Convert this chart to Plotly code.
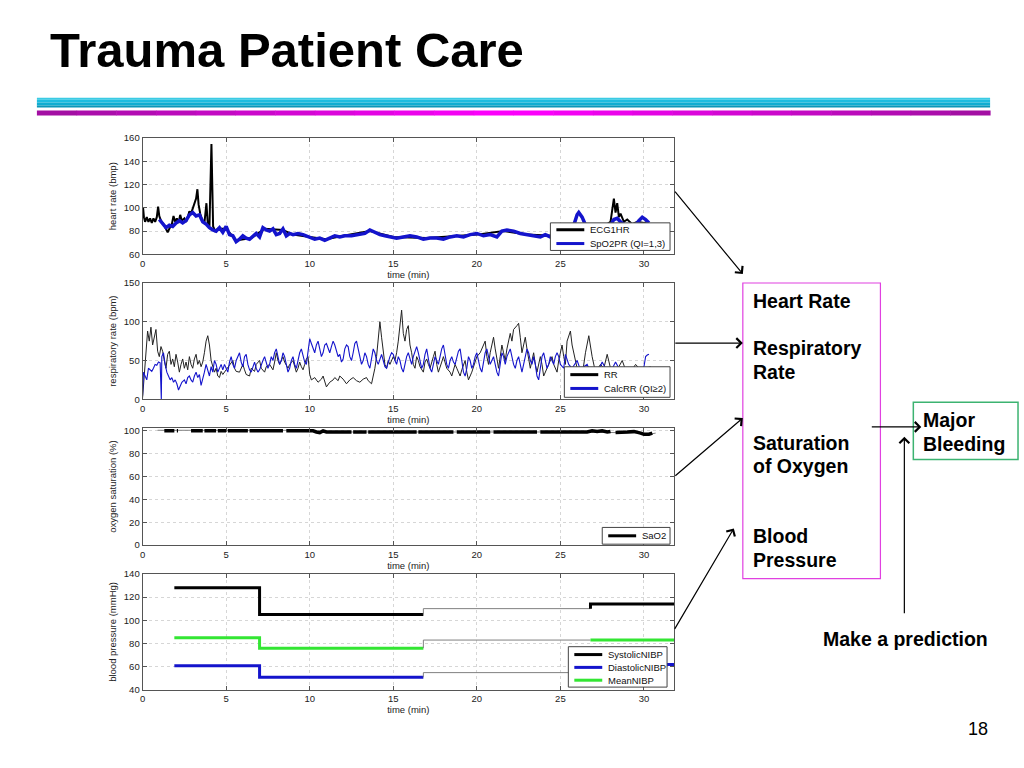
import plotly.graph_objects as go

W, H = 1024, 768
def px(x): return x / W
def py(y): return 1 - y / H

FONT = "Liberation Sans, Arial, sans-serif"

# ---------------- data ----------------
hr_ecg_t = [0.0, 0.03, 0.08, 0.15, 0.25, 0.35, 0.45, 0.55, 0.65, 0.75, 0.85, 0.93, 1.0, 1.1, 1.25, 1.4, 1.5, 1.6,
            1.75, 1.85, 1.95, 2.05, 2.15, 2.25, 2.35, 2.5, 2.6, 2.7, 2.8, 2.9, 3.0, 3.1, 3.2, 3.28, 3.35, 3.45, 3.55,
            3.7, 3.82, 3.9, 4.0, 4.12, 4.22, 4.35, 4.5, 5.0, 5.6, 6.5, 7.3, 8.4, 9.0, 10.0, 11.0, 12.0, 13.6, 15.0,
            17.0, 19.0, 20.0, 21.6, 23.0, 24.5, 25.5, 26.5, 27.5, 28.0, 28.1, 28.2, 28.3, 28.4, 28.5, 28.6, 28.8,
            29.0, 29.3, 29.6, 30.0, 30.3]
hr_ecg_v = [94, 100, 92, 88, 92, 88, 91, 87, 91, 88, 92, 101, 93, 89, 86, 82, 79, 82,
            86, 93, 88, 91, 87, 94, 89, 91, 88, 92, 97, 95, 100, 104, 108, 116, 103, 95, 90,
            87, 104, 86, 84, 155, 84, 80, 82, 82, 72, 74, 82, 81, 77, 75, 73, 76, 80, 75,
            74, 76, 77, 80, 77, 76, 78, 84, 83, 88, 100, 108, 96, 104, 92, 95, 88,
            90, 86, 88, 87, 88]

hr_spo2_t = [1.0, 1.2, 1.4, 1.6, 1.8, 2.0, 2.2, 2.4, 2.6, 2.8, 3.0, 3.2, 3.4, 3.6, 3.8, 4.0, 4.2, 4.4, 4.6, 4.8,
             5.0, 5.2, 5.4, 5.6, 5.8, 6.0, 6.2, 6.4, 6.6, 6.8, 7.0, 7.2, 7.4, 7.6, 7.8, 8.0, 8.2, 8.4, 8.6, 8.8,
             9.0, 9.3, 9.6, 10.0, 10.3, 10.6, 10.9, 11.2, 11.5, 11.8, 12.1, 12.5, 12.9, 13.3, 13.6, 13.9, 14.2,
             14.5, 14.8, 15.2, 15.6, 16.0, 16.4, 16.8, 17.2, 17.6, 18.0, 18.4, 18.8, 19.2, 19.6, 20.0, 20.4,
             20.8, 21.2, 21.5, 21.8, 22.2, 22.6, 23.0, 23.4, 23.8, 24.1, 24.4, 24.7, 25.0, 25.4, 25.8, 26.0,
             26.1, 26.3, 26.6, 27.0, 27.5, 28.0, 28.2, 28.4, 28.6, 29.0, 29.5, 29.7, 29.9, 30.1, 30.3]
hr_spo2_v = [90, 87, 83, 85, 84, 87, 89, 87, 89, 94, 96, 93, 94, 88, 86, 83, 81, 80, 83, 79,
             84, 77, 76, 71, 73, 76, 74, 73, 76, 78, 75, 83, 81, 80, 82, 77, 78, 82, 76, 78,
             77, 78, 77, 75, 73, 74, 72, 74, 76, 75, 76, 76, 77, 78, 81, 79, 77,
             76, 75, 74, 75, 76, 75, 73, 74, 74, 73, 75, 76, 75, 77, 78, 76,
             77, 75, 80, 81, 80, 78, 77, 76, 75, 77, 75, 78, 77, 78, 85, 94,
             96, 92, 82, 80, 81, 85, 90, 91, 88, 84, 85, 89, 92, 90, 87]

rr_t = [0.0, 0.1, 0.2, 0.3, 0.4, 0.5, 0.6, 0.7, 0.8, 0.9, 1.0, 1.1, 1.2, 1.3, 1.4, 1.5, 1.6, 1.7, 1.8, 1.9,
        2.0, 2.1, 2.2, 2.3, 2.4, 2.5, 2.6, 2.7, 2.8, 2.9, 3.0, 3.1, 3.2, 3.3, 3.4, 3.5, 3.6, 3.7, 3.8, 3.9,
        4.0, 4.1, 4.2, 4.3, 4.4, 4.5, 4.6, 4.7, 4.8, 4.9, 5.0, 5.2, 5.4, 5.5, 5.6, 5.8, 6.0, 6.1, 6.2, 6.4,
        6.5, 6.7, 6.8, 7.0, 7.1, 7.3, 7.4, 7.6, 7.8, 7.9, 8.0, 8.1, 8.2, 8.4, 8.5, 8.7, 8.8, 9.0, 9.1, 9.2,
        9.3, 9.4, 9.5, 9.6, 9.7, 9.8, 9.9, 10.0, 10.1, 10.3, 10.5, 10.7, 10.8, 11.0, 11.2, 11.4, 11.5, 11.7,
        11.8, 12.0, 12.2, 12.4, 12.6, 12.8, 13.0, 13.2, 13.4, 13.5, 13.7, 13.8, 13.9, 14.0, 14.1, 14.2,
        14.3, 14.4, 14.5, 14.6, 14.7, 14.8, 15.0, 15.1, 15.2, 15.3, 15.4, 15.5, 15.6, 15.7, 15.8, 15.9,
        16.0, 16.1, 16.2, 16.3, 16.4, 16.5, 16.6, 16.8, 16.9, 17.0, 17.1, 17.2, 17.4, 17.5, 17.6, 17.7,
        17.9, 18.0, 18.2, 18.4, 18.5, 18.7, 18.8, 19.0, 19.1, 19.3, 19.4, 19.5, 19.7, 19.8, 20.0, 20.2,
        20.4, 20.5, 20.6, 20.7, 20.8, 21.0, 21.1, 21.2, 21.3, 21.4, 21.5, 21.6, 21.7, 21.8, 22.0, 22.1,
        22.2, 22.4, 22.5, 22.6, 22.7, 22.8, 22.9, 23.0, 23.1, 23.2, 23.3, 23.4, 23.5, 23.6, 23.8, 23.9,
        24.0, 24.2, 24.4, 24.5, 24.6, 24.8, 24.9, 25.0, 25.1, 25.2, 25.3, 25.4, 25.6, 25.7, 25.8, 25.9,
        26.0, 26.3, 26.5, 26.7, 26.9, 27.1, 27.4, 27.6, 27.8, 28.0, 28.2, 28.5, 28.7, 28.9, 29.2, 29.5,
        29.8, 30.1, 30.4]
rr_v = [2, 30, 60, 88, 75, 93, 70, 80, 90, 62, 55, 68, 62, 50, 40, 58, 62, 45, 52, 42,
        58, 48, 35, 45, 52, 40, 48, 38, 55, 45, 40, 52, 58, 45, 50, 42, 48, 60, 75, 82,
        70, 50, 42, 35, 40, 30, 28, 36, 32, 35, 38, 45, 50, 40, 36, 35, 45, 38, 32, 30,
        40, 36, 45, 50, 40, 35, 42, 45, 38, 48, 60, 50, 45, 55, 48, 40, 45, 50, 42, 35,
        40, 48, 42, 38, 45, 52, 55, 32, 25, 28, 22, 26, 30, 16, 22, 25, 28, 24,
        30, 26, 20, 25, 28, 24, 22, 26, 28, 24, 20, 30, 40, 55, 75, 100,
        80, 60, 45, 40, 50, 45, 55, 50, 60, 75, 95, 115, 85, 75, 90, 95,
        70, 60, 45, 40, 55, 50, 42, 35, 48, 52, 45, 40, 55, 62, 45, 35,
        48, 55, 40, 35, 30, 45, 40, 30, 38, 50, 35, 25, 35, 42, 55, 60,
        70, 75, 55, 45, 60, 80, 65, 50, 40, 55, 70, 60, 50, 65, 85, 75,
        90, 95, 98, 80, 60, 70, 80, 65, 50, 40, 50, 60, 45, 35, 55, 45,
        30, 40, 50, 55, 45, 35, 50, 60, 70, 55, 45, 75, 88, 70, 60, 50,
        40, 30, 60, 82, 55, 35, 45, 40, 58, 40, 30, 42, 50, 38, 35, 45,
        38, 40, 42]

calc_t = [0.0, 0.05, 0.15, 0.25, 0.35, 0.45, 0.55, 0.65, 0.75, 0.85, 0.95, 1.05, 1.1, 1.12, 1.15, 1.25, 1.35,
          1.45, 1.55, 1.65, 1.75, 1.85, 1.95, 2.05, 2.15, 2.25, 2.35, 2.5, 2.6, 2.7, 2.8, 2.9, 3.0, 3.1, 3.2,
          3.3, 3.4, 3.5, 3.6, 3.7, 3.8, 3.9, 4.0, 4.1, 4.2, 4.3, 4.4, 4.5, 4.6, 4.7, 4.8, 4.9, 5.0, 5.1, 5.2,
          5.3, 5.4, 5.5, 5.6, 5.7, 5.8, 5.9, 6.0, 6.1, 6.2, 6.3, 6.4, 6.5, 6.6, 6.7, 6.8, 6.9, 7.0, 7.1, 7.2,
          7.3, 7.4, 7.5, 7.6, 7.7, 7.8, 7.9, 8.0, 8.1, 8.2, 8.3, 8.4, 8.5, 8.6, 8.7, 8.8, 8.9, 9.0, 9.1, 9.2,
          9.3, 9.4, 9.5, 9.6, 9.7, 9.8, 9.9, 10.0, 10.1, 10.2, 10.3, 10.4, 10.5, 10.6, 10.7, 10.8, 10.9, 11.0,
          11.1, 11.2, 11.3, 11.4, 11.5, 11.6, 11.7, 11.8, 11.9, 12.0, 12.1, 12.2, 12.3, 12.4, 12.5, 12.6, 12.7,
          12.8, 12.9, 13.0, 13.1, 13.2, 13.3, 13.4, 13.5, 13.6, 13.7, 13.8, 13.9, 14.0, 14.1, 14.2, 14.3, 14.4,
          14.5, 14.6, 14.7, 14.8, 14.9, 15.0, 15.1, 15.2, 15.3, 15.4, 15.5, 15.6, 15.7, 15.8, 15.9, 16.0, 16.1,
          16.2, 16.3, 16.4, 16.5, 16.6, 16.7, 16.8, 16.9, 17.0, 17.1, 17.2, 17.3, 17.4, 17.5, 17.6, 17.7, 17.8,
          17.9, 18.0, 18.1, 18.2, 18.3, 18.4, 18.5, 18.6, 18.7, 18.8, 18.9, 19.0, 19.1, 19.2, 19.3, 19.4, 19.5,
          19.6, 19.7, 19.8, 19.9, 20.0, 20.1, 20.2, 20.3, 20.4, 20.5, 20.6, 20.7, 20.8, 20.9, 21.0, 21.1, 21.2,
          21.3, 21.4, 21.5, 21.6, 21.7, 21.8, 21.9, 22.0, 22.1, 22.2, 22.3, 22.4, 22.5, 22.6, 22.7, 22.8, 22.9,
          23.0, 23.1, 23.2, 23.3, 23.4, 23.5, 23.6, 23.7, 23.8, 23.9, 24.0, 24.1, 24.2, 24.3, 24.4, 24.5, 24.6,
          24.7, 24.8, 24.9, 25.0, 25.2, 25.3, 25.5, 25.7, 26.0, 26.2, 26.4, 26.6, 26.8, 27.0, 27.3, 27.5, 27.7,
          28.0, 28.3, 28.5, 28.8, 29.0, 29.5, 29.8, 30.0, 30.1, 30.2, 30.3]
calc_v = [5, 35, 30, 25, 40, 38, 36, 40, 45, 44, 48, 47, 0, 0, 55, 60, 45,
          35, 30, 25, 28, 22, 25, 20, 12, 18, 22, 25, 20, 28, 30, 25, 22, 30, 35,
          28, 32, 18, 25, 35, 45, 38, 30, 42, 35, 50, 45, 35, 40, 45, 38, 45, 40, 35, 48,
          55, 45, 40, 50, 55, 60, 48, 42, 55, 58, 45, 38, 35, 42, 48, 40, 35, 38, 45, 50,
          55, 48, 40, 45, 55, 50, 60, 65, 55, 45, 50, 60, 55, 45, 35, 40, 50, 55, 45, 40,
          50, 60, 65, 55, 48, 45, 60, 78, 72, 65, 60, 70, 75, 65, 55, 60, 70, 72,
          65, 60, 68, 75, 70, 62, 55, 58, 48, 52, 65, 70, 68, 55, 50, 60, 72,
          75, 65, 55, 45, 50, 60, 55, 45, 40, 55, 65, 60, 50, 45, 52, 58, 50,
          42, 40, 48, 55, 60, 58, 50, 45, 55, 50, 40, 35, 45, 55, 60, 52, 45,
          55, 62, 68, 60, 48, 40, 45, 58, 65, 50, 40, 35, 45, 55, 50, 45, 55,
          65, 70, 55, 45, 40, 50, 55, 48, 45, 55, 62, 65, 50, 35, 30, 40, 55,
          50, 40, 45, 55, 60, 50, 40, 35, 50, 60, 65, 55, 45, 50, 55, 45, 35,
          30, 45, 60, 55, 45, 55, 60, 65, 55, 45, 40, 50, 55, 45, 35, 45, 55,
          65, 60, 50, 45, 55, 45, 30, 25, 40, 55, 60, 50, 40, 45, 55, 50, 45,
          55, 60, 55, 45, 40, 58, 45, 40, 50, 38, 42, 45, 35, 40, 38, 48, 40,
          35, 48, 40, 35, 38, 35, 38, 42, 55, 57, 58]

# SaO2: thick (good quality) segments separated by gaps, plus thin underlying trace
sao2_t = [1.3, 1.9, None, 2.05, 2.12, None, 2.9, 3.6, None, 3.7, 4.4, None, 4.5, 5.0, None, 5.1, 6.3, None,
          6.4, 8.4, None, 8.6, 10.2, 10.4, 10.6, 10.8, 11.0, 12.5, None, 12.6, 13.4, None, 13.5, 16.4, None,
          16.5, 18.6, None, 18.8, 20.8, None, 21.0, 23.6, None, 23.8, 26.6, 26.9, 27.2, 27.5, 27.8, 28.0,
          None, 28.3, 28.8, 29.0, 29.4, 29.6, 29.8, 30.0, 30.3, 30.5]
sao2_v = [100, 100, None, 100, 100, None, 100, 100, None, 100, 100, None, 100, 100, None, 100, 100, None,
          100, 100, None, 100, 100, 99, 98.5, 100, 99, 99, None, 99, 99, None, 99, 99, None,
          99, 99, None, 99, 99, None, 99, 99, None, 99, 99, 100, 99.5, 100, 99, 99.5,
          None, 98.5, 98.5, 99, 99.5, 99, 98, 97, 97, 98]
sao2_thin_t = [0.9, 10.2, 10.6, 11.0, 26.6, 28.3, 29.8, 30.3, 30.7]
sao2_thin_v = [100.5, 100.5, 98.5, 99, 99, 98.5, 98, 97, 98]

# Blood pressure (NIBP steps)
bp_t = [1.9, 7.0, 16.8, 26.8, 31.8]
sys_v = [128, 105, 110, 114, 114]
dia_v = [61, 51, 55, 62, 62]
mean_v = [85, 76, 83, 83, 83]

x_ticks = [0, 5, 10, 15, 20, 25, 30]
X_RANGE = [0, 31.8]

BLACK = "#000000"
BLUE = "#1414cc"
GREEN = "#33e633"
THIN = "#808080"

fig = go.Figure()

# ---- panel 1: heart rate
fig.add_trace(go.Scatter(x=hr_ecg_t, y=hr_ecg_v, mode="lines", name="ECG1HR",
                         line=dict(color=BLACK, width=2), xaxis="x", yaxis="y"))
fig.add_trace(go.Scatter(x=hr_spo2_t, y=hr_spo2_v, mode="lines", name="SpO2PR (QI=1,3)",
                         line=dict(color=BLUE, width=3.5), xaxis="x", yaxis="y"))
# ---- panel 2: respiratory rate
fig.add_trace(go.Scatter(x=rr_t, y=rr_v, mode="lines", name="RR",
                         line=dict(color="#222222", width=1), xaxis="x2", yaxis="y2"))
fig.add_trace(go.Scatter(x=calc_t, y=calc_v, mode="lines", name="CalcRR (QI≥2)",
                         line=dict(color=BLUE, width=1.1), xaxis="x2", yaxis="y2"))
# ---- panel 3: oxygen saturation
fig.add_trace(go.Scatter(x=sao2_thin_t, y=sao2_thin_v, mode="lines", showlegend=False,
                         line=dict(color=THIN, width=1), xaxis="x3", yaxis="y3"))
fig.add_trace(go.Scatter(x=sao2_t, y=sao2_v, mode="lines", name="SaO2", connectgaps=False,
                         line=dict(color=BLACK, width=3.5), xaxis="x3", yaxis="y3"))

# ---- panel 4: blood pressure (thick = good segments, thin = lower-quality segment)
def bp_traces(vals, color, name):
    fig.add_trace(go.Scatter(x=bp_t[0:3], y=[vals[0], vals[1], vals[1]], mode="lines", name=name,
                             line=dict(color=color, width=3, shape="hv"), xaxis="x4", yaxis="y4"))
    fig.add_trace(go.Scatter(x=[bp_t[2], bp_t[2], bp_t[3]], y=[vals[1], vals[2], vals[2]], mode="lines",
                             showlegend=False, line=dict(color=THIN, width=1), xaxis="x4", yaxis="y4"))
    fig.add_trace(go.Scatter(x=[bp_t[3], bp_t[3], bp_t[4]], y=[vals[2], vals[3], vals[4]], mode="lines",
                             showlegend=False, line=dict(color=color, width=3), xaxis="x4", yaxis="y4"))

bp_traces(sys_v, BLACK, "SystolicNIBP")
bp_traces(mean_v, GREEN, "MeanNIBP")
bp_traces(dia_v, BLUE, "DiastolicNIBP")

# ---------------- axes ----------------
panels = [
    (134, 252, [60, 160], 20, "heart rate (bmp)"),
    (281, 399, [0, 150], 50, "respiratory rate (bpm)"),
    (428, 547, [0, 102.6], 20, "oxygen saturation (%)"),
    (576, 694, [40, 140], 20, "blood pressure (mmHg)"),
]
axis_common = dict(showline=True, linecolor="#555555", linewidth=1, mirror="ticks",
                   ticks="inside", ticklen=4, tickcolor="#555555",
                   showgrid=True, gridcolor="#d6d6d6", griddash="dot", gridwidth=1,
                   zeroline=False, tickfont=dict(family=FONT, size=9.5, color="#222222"))
layout_axes = {}
for i, (top, bot, yr, dt, ytitle) in enumerate(panels):
    sfx = "" if i == 0 else str(i + 1)
    layout_axes["xaxis" + sfx] = dict(axis_common, domain=[px(140), px(673)], range=X_RANGE,
                                      tickvals=x_ticks, anchor="y" + sfx,
                                      title=dict(text="time (min)", standoff=2,
                                                 font=dict(family=FONT, size=9.5, color="#222222")))
    layout_axes["yaxis" + sfx] = dict(axis_common, domain=[py(bot), py(top)], range=yr, dtick=dt,
                                      tick0=yr[0], anchor="x" + sfx,
                                      title=dict(text=ytitle, standoff=5,
                                                 font=dict(family=FONT, size=9.5, color="#222222")))

shapes = []
annotations = []

# ---------------- manual legends (MATLAB style boxes) ----------------
def legend_box(x0, y0, x1, y1, items):
    shapes.append(dict(type="rect", xref="paper", yref="paper", x0=px(x0), x1=px(x1), y0=py(y1), y1=py(y0),
                       line=dict(color="#444444", width=1), fillcolor="white", layer="above"))
    for (label, color, yy) in items:
        shapes.append(dict(type="line", xref="paper", yref="paper", x0=px(x0 + 6), x1=px(x0 + 34),
                           y0=py(yy), y1=py(yy), line=dict(color=color, width=3), layer="above"))
        annotations.append(dict(text=label, xref="paper", yref="paper", x=px(x0 + 38), y=py(yy),
                                xanchor="left", yanchor="middle", showarrow=False,
                                font=dict(family=FONT, size=9.5, color="#111111")))

legend_box(549, 220, 669, 248, [("ECG1HR", BLACK, 227), ("SpO2PR (QI=1,3)", BLUE, 241)])
legend_box(563, 366, 669, 397, [("RR", BLACK, 374), ("CalcRR (QI≥2)", BLUE, 388)])
legend_box(601, 529, 669, 546, [("SaO2", BLACK, 537.5)])
legend_box(567, 650, 666, 691, [("SystolicNIBP", BLACK, 658), ("DiastolicNIBP", BLUE, 671),
                                ("MeanNIBP", GREEN, 684)])

# ---------------- slide decorations ----------------
for (y0, y1, c) in [(93, 95, "#3acbe4"), (95, 98, "#1ebde0"), (98, 101, "#10aed2"), (101, 103, "#0c97b8")]:
    shapes.append(dict(type="rect", xref="paper", yref="paper", x0=px(34), x1=px(990), y0=py(y1), y1=py(y0),
                       line=dict(width=0), fillcolor=c, layer="below"))
nseg = 24
for k in range(nseg):
    f = abs((k + 0.5) / nseg - 0.5) * 2
    r = int(255 - 95 * f); g = int(0 + 16 * f); b = int(255 - 95 * f)
    x0 = 34 + (990 - 34) * k / nseg
    x1 = 34 + (990 - 34) * (k + 1) / nseg + 0.5
    shapes.append(dict(type="rect", xref="paper", yref="paper", x0=px(x0), x1=px(x1), y0=py(111), y1=py(106),
                       line=dict(width=0), fillcolor=f"rgb({r},{g},{b})", layer="below"))

shapes.append(dict(type="rect", xref="paper", yref="paper", x0=px(742), x1=px(880), y0=py(581), y1=py(281),
                   line=dict(color="#e040e0", width=1.2), fillcolor="rgba(0,0,0,0)"))
shapes.append(dict(type="rect", xref="paper", yref="paper", x0=px(913), x1=px(1018), y0=py(460), y1=py(402),
                   line=dict(color="#3cb371", width=1.5), fillcolor="rgba(0,0,0,0)"))

def text(t, x, y, size=19.5, bold=True, xanchor="left"):
    annotations.append(dict(text=f"<b>{t}</b>" if bold else t, xref="paper", yref="paper", x=px(x), y=py(y),
                            xanchor=xanchor, yanchor="middle", showarrow=False,
                            font=dict(family=FONT, size=size, color="black")))

text("Trauma Patient Care", 45, 45, size=49)
text("Heart Rate", 750, 299)
text("Respiratory", 750, 347)
text("Rate", 750, 371)
text("Saturation", 750, 443)
text("of Oxygen", 750, 467)
text("Blood", 750, 538)
text("Pressure", 750, 562)
text("Major", 921, 420)
text("Bleeding", 921, 444)
text("Make a prediction", 905, 642, xanchor="center")
text("18", 978, 733, size=18, bold=False, xanchor="center")

def arrow(hx, hy, tx, ty):
    annotations.append(dict(text="", xref="paper", yref="paper", x=px(hx), y=py(hy),
                            ax=tx - hx, ay=ty - hy, showarrow=True, arrowhead=4, arrowsize=1.6,
                            arrowwidth=1.2, arrowcolor="black", standoff=0, startstandoff=0))

arrow(742, 272, 673, 188)
arrow(742, 342, 673, 342)
arrow(742, 418, 673, 477)
arrow(733, 530, 673, 632)
arrow(921, 427, 870, 427)
arrow(904, 437, 904, 615)

fig.update_layout(width=W, height=H, margin=dict(l=0, r=0, t=0, b=0),
                  paper_bgcolor="white", plot_bgcolor="white", showlegend=False,
                  shapes=shapes, annotations=annotations, **layout_axes)

fig.write_html("out.html", config={"displayModeBar": False},
               post_script="document.body.style.margin='0';document.body.style.overflow='hidden';")
